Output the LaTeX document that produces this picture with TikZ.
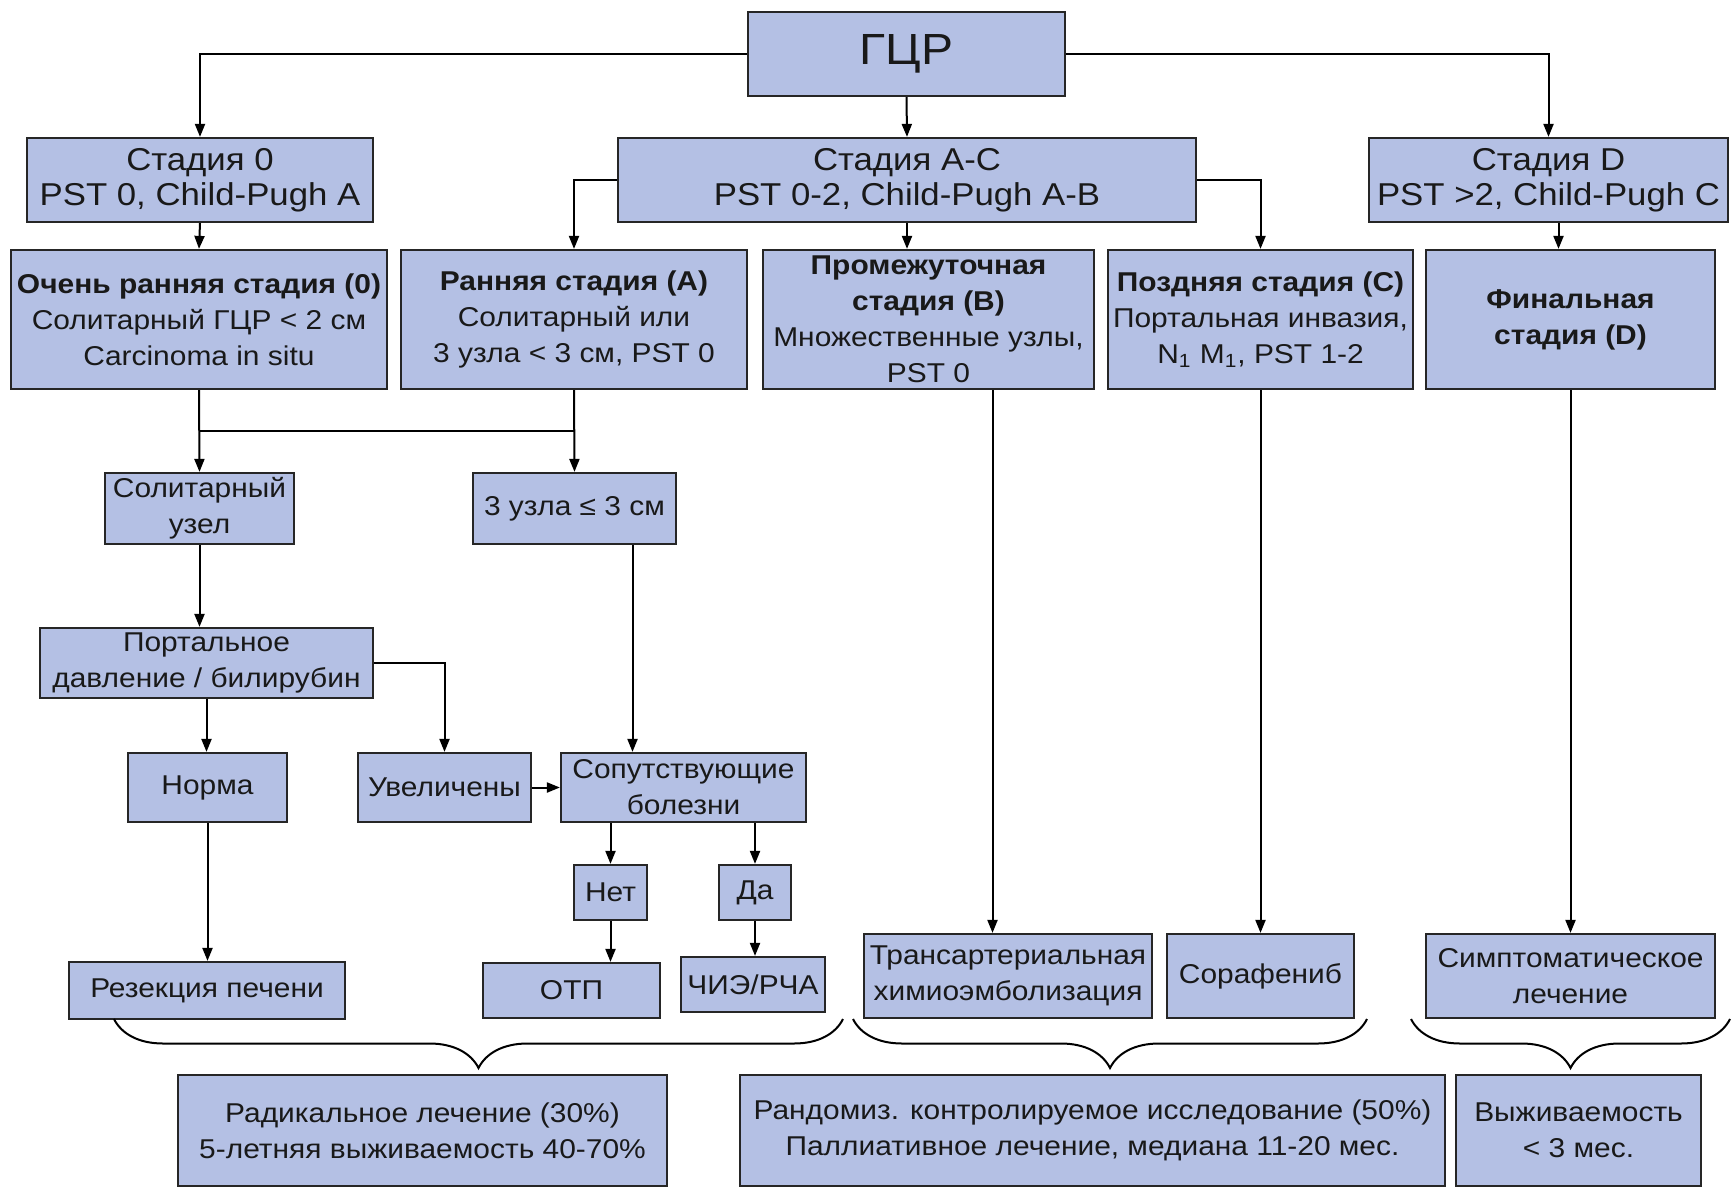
\documentclass[tikz,border=0pt]{standalone}
\usepackage{fontspec}
\setmainfont{Liberation Sans}[FakeStretch=1.1]
\usetikzlibrary{arrows.meta,decorations.pathreplacing}
\definecolor{boxblue}{RGB}{180,192,228}
\newcommand{\stfont}{\fontsize{15.8}{17.5}\selectfont}
\newcommand{\bxfont}{\fontsize{13.6}{18}\selectfont}

\begin{document}
\begin{tikzpicture}[x=0.5pt, y=-0.5pt, >={Triangle[length=6.5pt,width=5pt]},
    box/.style={draw=black!85, fill=boxblue, line width=1.1pt, align=center, inner sep=0pt, text=black!90, font=\bxfont},
    sz/.style 2 args={minimum width=#1*0.5pt, minimum height=#2*0.5pt},
    link/.style={->, line width=1pt},
    brace/.style={decorate, decoration={brace, mirror, amplitude=24.5pt}, line width=1pt}]
    \useasboundingbox (0,0) rectangle (1733,1188);

    % Top and stages
    \node[box, sz={317}{84}, font=\fontsize{21.8}{24}\selectfont] (gcr) at (906.5,54) {ГЦР};
    \node[box, sz={346}{84}, font=\stfont] (st0) at (200,180) {Стадия 0\\PST 0, Child-Pugh A};
    \node[box, sz={578}{84}, font=\stfont] (stAC) at (907,180) {Стадия A-C\\PST 0-2, Child-Pugh A-B};
    \node[box, sz={359}{84}, font=\stfont] (stD) at (1548.5,180) {Стадия D\\PST >2, Child-Pugh C};

    % Stage boxes
    \node[box, sz={376}{139}] (vearly) at (199,319.5) {\textbf{Очень ранняя стадия (0)}\\Солитарный ГЦР < 2 см\\Carcinoma in situ};
    \node[box, sz={346}{139}] (early) at (574,319.5) {\textbf{Ранняя стадия (A)}\\Солитарный или\\3 узла < 3 см, PST 0};
    \node[box, sz={331}{139}] (interm) at (928.5,319.5) {\textbf{Промежуточная}\\\textbf{стадия (B)}\\Множественные узлы,\\PST 0};
    \node[box, sz={305}{139}] (late) at (1260.5,319.5) {\textbf{Поздняя стадия (C)}\\Портальная инвазия,\\N\textsubscript{1} M\textsubscript{1}, PST 1-2};
    \node[box, sz={289}{139}] (final) at (1570.5,319.5) {\textbf{Финальная}\\\textbf{стадия (D)}};

    % Decision boxes
    \node[box, sz={189}{71}] (solit) at (199.5,508.5) {Солитарный\\узел};
    \node[box, sz={203}{71}] (three) at (574.5,508.5) {3 узла ≤ 3 см};
    \node[box, sz={333}{70}] (portal) at (206.5,663) {Портальное\\давление / билирубин};
    \node[box, sz={159}{69}] (norma) at (207.5,787.5) {Норма};
    \node[box, sz={173}{69}] (uvel) at (444.5,787.5) {Увеличены};
    \node[box, sz={245}{69}] (comorb) at (683.5,787.5) {Сопутствующие\\болезни};
    \node[box, sz={73}{55}] (net) at (610.5,892.5) {Нет};
    \node[box, sz={72}{55}] (da) at (755,892.5) {Да};

    % Treatment
    \node[box, sz={276}{57}] (resek) at (207,990.5) {Резекция печени};
    \node[box, sz={177}{55}] (otp) at (571.5,990.5) {ОТП};
    \node[box, sz={144}{55}] (chie) at (753,984.5) {ЧИЭ/РЧА};
    \node[box, sz={288}{84}] (transart) at (1008,976) {Трансартериальная\\химиоэмболизация};
    \node[box, sz={187}{84}] (soraf) at (1260.5,976) {Сорафениб};
    \node[box, sz={289}{84}] (symp) at (1570.5,976) {Симптоматическое\\лечение};

    % Outcome
    \node[box, sz={489}{111}] (radical) at (422.5,1130.5) {Радикальное лечение (30\%)\\5-летняя выживаемость 40-70\%};
    \node[box, sz={705}{111}] (random) at (1092.5,1130.5) {Рандомиз. контролируемое исследование (50\%)\\Паллиативное лечение, медиана 11-20 мес.};
    \node[box, sz={245}{111}] (surv) at (1578.5,1130.5) {Выживаемость\\< 3 мес.};

    % Connectors
    \draw[link] (gcr.west) -| (st0.north);
    \draw[link] (gcr.east) -| (stD.north);
    \draw[link] (gcr.south) -- (stAC.north);
    \draw[link] (st0.south) -- (vearly.north);
    \draw[link] (stAC.west) -| (early.north);
    \draw[link] (stAC.south) -- (stAC.south |- interm.north);
    \draw[link] (stAC.east) -| (late.north);
    \draw[link] ([xshift=5pt]stD.south) -- ([xshift=5pt]stD.south |- final.north);

    \coordinate (jl) at (199,431);
    \coordinate (jr) at (574,431);
    \draw[line width=1pt] (jl) -- (jr);
    \draw[link] (vearly.south) -- (solit.north);
    \draw[link] (early.south) -- (three.north);
    \draw[link] (solit.south) -- (solit.south |- portal.north);
    \draw[link] (portal.south) -- (portal.south |- norma.north);
    \draw[link] (portal.east) -| (uvel.north);
    \draw[link] (uvel.east) -- (comorb.west);
    \draw[link] ([xshift=29pt]three.south) -- ([xshift=29pt]three.south |- comorb.north);
    \draw[link] (comorb.south -| net.north) -- (net.north);
    \draw[link] (comorb.south -| da.north) -- (da.north);
    \draw[link] (net.south) -- (net.south |- otp.north);
    \draw[link] (da.south) -- (da.south |- chie.north);
    \draw[link] (norma.south) -- (norma.south |- resek.north);
    \draw[link] ([xshift=32pt]interm.south) -- ([xshift=32pt]interm.south |- transart.north);
    \draw[link] (late.south) -- (late.south |- soraf.north);
    \draw[link] (final.south) -- (symp.north);

    % Braces
    \coordinate (br1a) at (114,1019);
    \coordinate (br1b) at (843,1019);
    \coordinate (br2a) at (853,1019);
    \coordinate (br2b) at (1367,1019);
    \coordinate (br3a) at (1411,1019);
    \coordinate (br3b) at (1730,1019);
    \draw[brace] (br1a) -- (br1b);
    \draw[brace] (br2a) -- (br2b);
    \draw[brace] (br3a) -- (br3b);
\end{tikzpicture}
\end{document}
